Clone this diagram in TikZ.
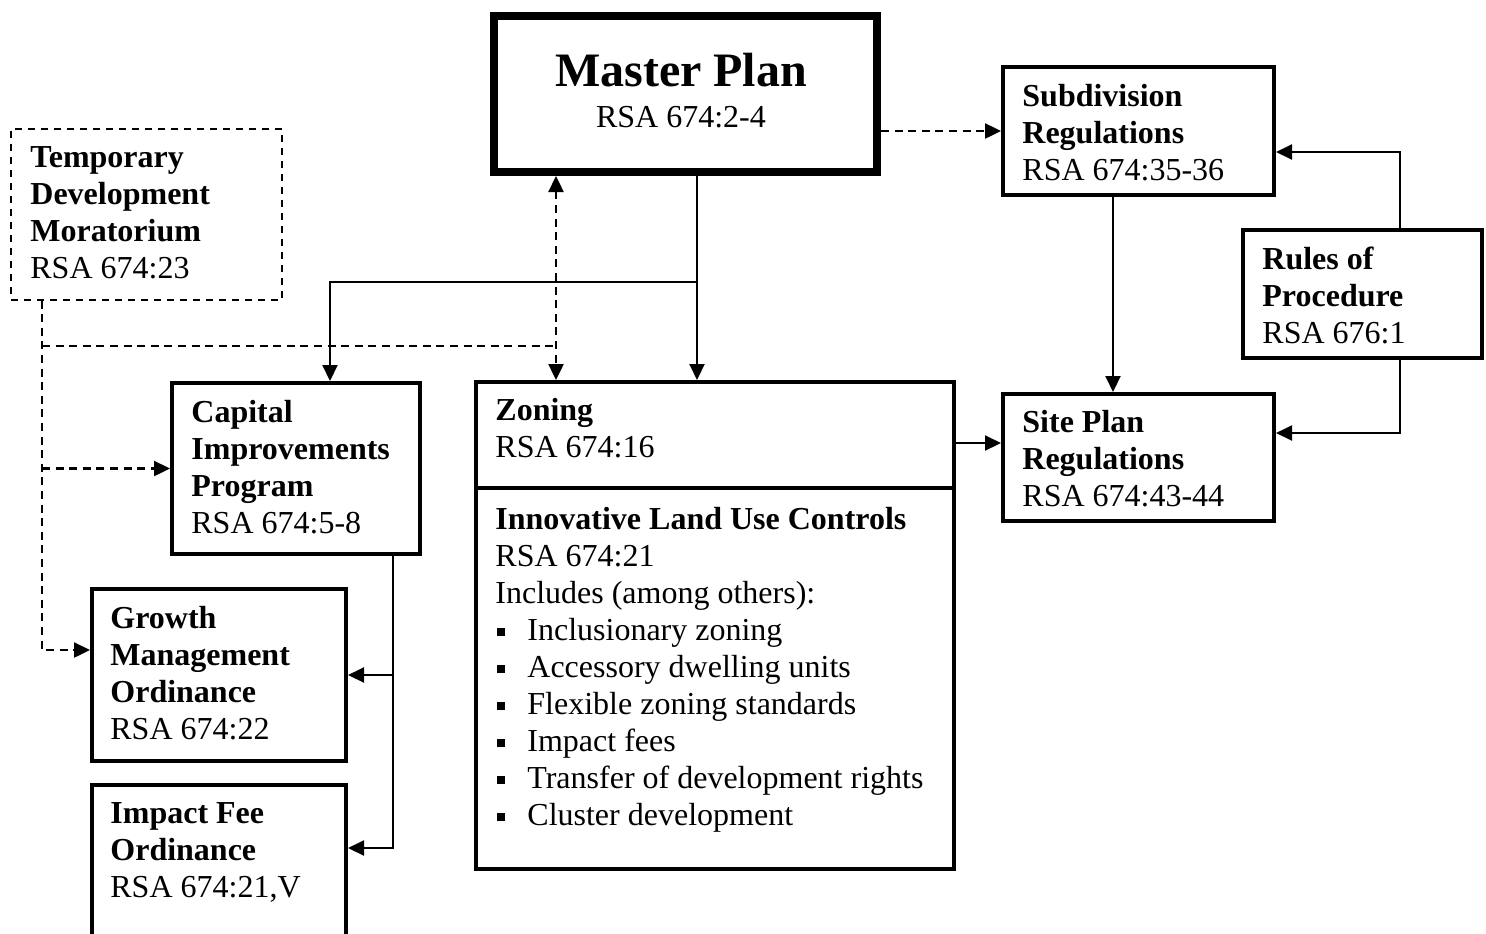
\documentclass[tikz,border=0pt]{standalone}
\usepackage{fontspec}
\setmainfont{Liberation Serif}
\usetikzlibrary{arrows.meta,calc}
\newcommand\sqbul{\makebox[16pt][l]{\hspace{1pt}\raisebox{2pt}{\rule{4pt}{4pt}}}}
\newcommand\topst{\rule{0pt}{12pt}}
\tikzset{
  box/.style={draw, line width=2pt, inner sep=0pt, anchor=north west},
  mbox/.style={draw, line width=4pt, inner sep=0pt, anchor=north west},
  dbox/.style={draw, line width=0.8pt, dash pattern=on 3.5pt off 3pt, inner sep=0pt, anchor=north west},
  txt/.style={anchor=north west, inner sep=0pt, align=left, font=\fontsize{16pt}{18.5pt}\selectfont},
  tip/.tip={Triangle[length=8pt,width=7.5pt]},
  conn/.style={line width=1pt, -tip},
  dline/.style={line width=1.2pt, dash pattern=on 4pt off 2.8pt},
  dconn/.style={dline, -tip},
}
\begin{document}
\begin{tikzpicture}[x=0.5pt,y=-0.5pt]
\useasboundingbox (0,0) rectangle (1486,933);
\clip (0,0) rectangle (1486,933);

% boxes
\node[mbox, minimum width=191.5pt, minimum height=78pt] (mp) at (490,12) {};
\node[dbox, minimum width=135.5pt, minimum height=85.5pt] (tmp) at (10,128) {};
\node[box, minimum width=135.5pt, minimum height=64pt] (sub) at (1001,65) {};
\node[box, minimum width=119.5pt, minimum height=64pt] (rul) at (1241,228) {};
\node[box, minimum width=135.5pt, minimum height=63.5pt] (site) at (1001,392) {};
\node[box, minimum width=239pt, minimum height=243.5pt] (zon) at (474,380) {};
\node[box, minimum width=124pt, minimum height=85.5pt] (cap) at (170,381) {};
\node[box, minimum width=127pt, minimum height=86pt] (grw) at (90,587) {};
\node[box, minimum width=127pt, minimum height=81.5pt] (imp) at (90,783) {};

\coordinate (zd) at (0,488);
\draw[line width=2pt] (zon.west |- zd) -- (zon.east |- zd);

% texts
\node[anchor=base, inner sep=0pt, font=\fontsize{24pt}{28pt}\selectfont\bfseries] (mpT) at (681,86) {Master Plan};
\node[anchor=base, inner sep=0pt, font=\fontsize{16pt}{18.5pt}\selectfont] (mpR) at (681,127) {RSA 674:2-4};
\node[txt] (tmpT) at (30,143) {\topst\textbf{Temporary}\\\textbf{Development}\\\textbf{Moratorium}\\RSA 674:23};
\node[txt] (subT) at (1022,82) {\topst\textbf{Subdivision}\\\textbf{Regulations}\\RSA 674:35-36};
\node[txt] (rulT) at (1262,245) {\topst\textbf{Rules of}\\\textbf{Procedure}\\RSA 676:1};
\node[txt] (siteT) at (1022,408) {\topst\textbf{Site Plan}\\\textbf{Regulations}\\RSA 674:43-44};
\node[txt] (capT) at (191,398) {\topst\textbf{Capital}\\\textbf{Improvements}\\\textbf{Program}\\RSA 674:5-8};
\node[txt] (grwT) at (110,604) {\topst\textbf{Growth}\\\textbf{Management}\\\textbf{Ordinance}\\RSA 674:22};
\node[txt] (impT) at (110,799) {\topst\textbf{Impact Fee}\\\textbf{Ordinance}\\RSA 674:21,V};
\node[txt] (zonT) at (495,396) {\topst\textbf{Zoning}\\RSA 674:16};
\node[txt] (iluT) at (495,505) {\topst\textbf{Innovative Land Use Controls}\\RSA 674:21\\Includes (among others):\\
\sqbul Inclusionary zoning\\\sqbul Accessory dwelling units\\\sqbul Flexible zoning standards\\\sqbul Impact fees\\\sqbul Transfer of development rights\\\sqbul Cluster development};

% routing points
\coordinate (j1) at (697,282);
\coordinate (xc) at (330,282);
\coordinate (xd) at (556,346);
\coordinate (xl) at (42,346);
\coordinate (g1) at (42,650);
\coordinate (xb) at (393,0);
\coordinate (i1) at (393,848);
\coordinate (zs) at (0,443);
\coordinate (xs) at (1113,0);
\coordinate (r1) at (1400,152);
\coordinate (r2) at (1400,433);

% connectors
\draw[dconn] (mp.east |- sub.west) -- (sub.west);
\draw[conn] (mp.south -| j1) -- (zon.north -| j1);
\draw[conn] (j1) -- (xc) -- (cap.north -| xc);
\draw[dline, tip-tip] (mp.south -| xd) -- (zon.north -| xd);
\draw[dline] (xl) -- (xd);
\draw[dconn] (tmp.south -| xl) -- (g1) -- (grw.west |- g1);
\draw[dconn] (cap.west -| xl) -- (cap.west);
\draw[conn] (cap.south -| xb) -- (i1) -- (imp.east |- i1);
\draw[conn] (grw.east -| xb) -- (grw.east);
\draw[conn] (zon.east |- zs) -- (site.west |- zs);
\draw[conn] (sub.south -| xs) -- (site.north -| xs);
\draw[conn] (rul.north -| r1) -- (r1) -- (sub.east |- r1);
\draw[conn] (rul.south -| r2) -- (r2) -- (site.east |- r2);
\end{tikzpicture}
\end{document}
